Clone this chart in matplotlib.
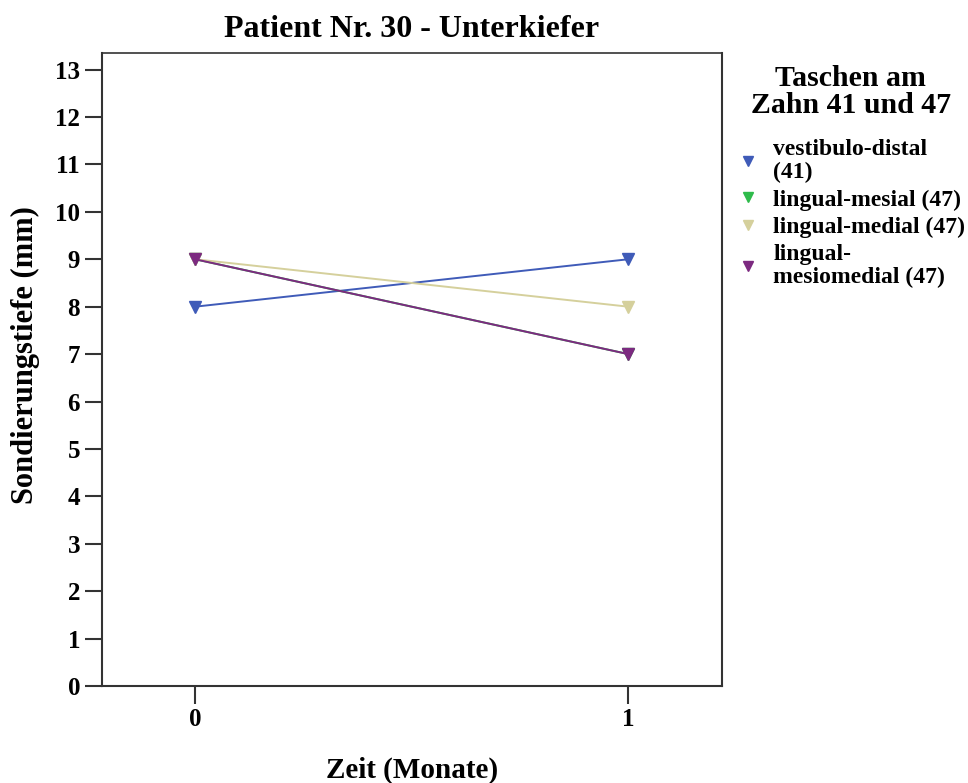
import matplotlib
matplotlib.use("Agg")
import matplotlib.pyplot as plt

# Messzeitpunkte und Sondierungstiefen je Tasche
zeit = [0, 1]
labels = ["vestibulo-distal\n(41)", "lingual-mesial (47)", "lingual-medial (47)", "lingual-\nmesiomedial (47)"]
vestibulo_distal_41 = [8, 9]
lingual_mesial_47 = [9, 7]
lingual_medial_47 = [9, 8]
lingual_mesiomedial_47 = [9, 7]
colors = ["#3f5bb8", "#2fbb4b", "#d5d09c", "#7c2a80"]

plt.rcParams["font.family"] = ["Liberation Serif", "DejaVu Serif"]
plt.rcParams["font.weight"] = "bold"

fig = plt.figure(figsize=(9.68, 7.83), dpi=100)
ax = fig.add_axes([0.105, 0.1239, 0.6406, 0.8084])

series = [vestibulo_distal_41, lingual_mesial_47, lingual_medial_47, lingual_mesiomedial_47]
for vals, lab, c in zip(series, labels, colors):
    ax.plot(zeit, vals, color=c, lw=1.4, marker="v", ms=8, mec=c, mfc=c, label=lab)

ax.set_xlim(-0.216, 1.216)
ax.set_ylim(0, 13.35)
ax.set_xticks(zeit)
ax.set_yticks(range(0, 14))
ax.tick_params(axis="y", direction="out", length=12.5, width=1.5, labelsize=18, color="#333333", pad=3)
ax.tick_params(axis="x", direction="out", length=13, width=1.5, labelsize=18, color="#333333", pad=3)
for s in ax.spines.values():
    s.set_linewidth(1.5)
    s.set_color("#333333")
ax.spines["top"].set_linewidth(1.2)

ax.set_title("Patient Nr. 30 - Unterkiefer", fontsize=23, fontweight="bold", pad=11.5)
ax.set_xlabel("Zeit (Monate)", fontsize=21, fontweight="bold")
ax.xaxis.set_label_coords(0.5, -0.112)
ax.set_ylabel("Sondierungstiefe (mm)", fontsize=22, fontweight="bold")
ax.yaxis.set_label_coords(-0.100, 0.523)

# Legendentitel separat, zentriert über den Einträgen
fig.text(0.879, 0.882, "Taschen am\nZahn 41 und 47", ha="center", va="center",
         fontsize=21.5, fontweight="bold", linespacing=1.0)

leg = ax.legend(loc="upper left", bbox_to_anchor=(0.7486, 0.837), bbox_transform=fig.transFigure,
                frameon=False, fontsize=17,
                handlelength=1.0, handletextpad=0.56, labelspacing=0.25, borderpad=0,
                markerscale=0.85)
for t in leg.get_texts():
    t.set_linespacing(1.1)
for h in leg.legend_handles:
    h.set_linestyle("none")

fig.savefig("out.png", dpi=100)
